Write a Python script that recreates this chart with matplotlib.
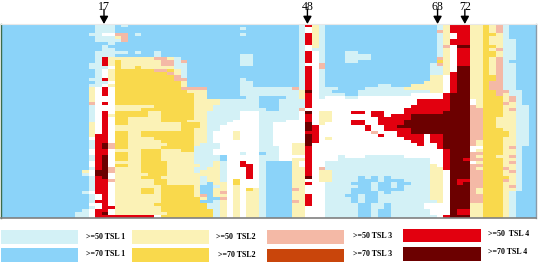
import numpy as np
import matplotlib
matplotlib.use('Agg')
import matplotlib.pyplot as plt
from matplotlib.colors import ListedColormap
from matplotlib.patches import Rectangle

# one string per row, one digit per position (groups of ten for counting)
# 0 none, 1/2 TSL1 >=50/>=70, 3/4 TSL2, 5/6 TSL3, 7/8 TSL4
rows = [
    "2222222222 2222211121 2222222222 2222222222 2222221731 2222222222 2222222137 7733435122 22",
    "2222222222 2222211122 2222222222 2222222122 2222221031 2222222222 2222222137 7733435122 22",
    "2222222222 2222211122 2222222222 2222222222 2222221031 2222222222 2222222537 7733435122 22",
    "2222222222 2222110055 2122222222 2222222122 2222221731 2222222222 2222222130 7733443122 22",
    "2222222222 2222211135 2222222222 2222222222 2222221731 2222222222 2222222130 7733433122 22",
    "2222222222 2222211115 2222222222 2222222222 2222221731 2222222222 2222222137 7733433112 22",
    "2222222222 2222222122 2222222222 2222222222 2222221731 2222222222 2222222137 7733433112 22",
    "2222222222 2222221222 2222222222 2222222222 2222221031 2222222222 2222222150 8833443112 22",
    "2222222222 2222221122 2222222222 2222222222 2222221011 2222222222 2222222130 7733435112 22",
    "2222222222 2222211111 2122122222 2222222222 2222221701 2221122222 2222222130 7733443112 22",
    "2222222222 2222211122 2222122222 2222222112 2222221701 2221111222 2222222130 7733443112 22",
    "2222222222 2222217333 3333553122 2222222112 2222221701 2221111222 2222222530 7733435112 22",
    "2222222222 2222217343 3333355152 2222222112 2222221701 2221122222 2222222430 7733435122 22",
    "2222222222 2222117343 3333355112 2222222112 2222221005 2222222222 2222221530 7733435112 22",
    "2222222222 2222111043 3433333112 2222222222 2222221705 2222222222 2222221130 8833435112 22",
    "2222222222 2222210344 4444554312 2222222222 2222221701 2222222222 2222221130 8833435112 22",
    "2222222222 2222210344 4444445312 2222222222 2222221701 2222222222 2222221137 8833435112 22",
    "2222222222 2222210344 4444444512 2222222222 2222221701 2222222222 2222223307 8833445112 22",
    "2222222222 2222117344 4444444552 2222222122 2222221701 2222222222 2222223307 8833445112 22",
    "2222222222 2222211044 4444444432 2222222112 2222221701 2222222222 2222233307 8833455112 22",
    "2222222222 2222110344 4444444432 2222222112 2222221701 2222222211 2223333307 8833455112 22",
    "2222222222 2222307044 4444444455 5522222111 1111151701 1122221111 1133333307 8833455112 22",
    "2222222222 2222307044 4444444443 3322222111 1111113801 1222211111 1111113307 8833445511 22",
    "2222222222 2222307044 4444444444 3322222111 1111113701 1112211111 1110000078 8833445311 22",
    "2222222222 2222300044 4444444444 3322222211 2222113701 0001100000 0000000078 8833444351 22",
    "2222222222 2222300044 4444444444 3333111111 2221111700 0000000000 0000777778 8803444351 22",
    "2222222222 2222507044 4444444444 3333111111 2221111700 0000000000 0000777778 8803444531 22",
    "2222222222 2222100033 3333444444 3331111111 2221111700 0000000000 0007777778 8853444331 12",
    "2222222222 2222100033 3344444444 3331111111 1221115000 0000000000 0077777778 8855444351 12",
    "2222222222 2222107044 4443344444 3311111000 1111110803 3000770770 0077777788 8855444331 12",
    "2222222222 2222107344 4443344444 3311111000 1111110703 3000000770 7778888888 8855444331 12",
    "2222222222 2222107044 3333344444 3311111000 1111110703 3000000077 7778888888 8855443331 12",
    "2222222222 2222107044 3333344443 3311110000 1111000703 3000770077 7788888888 8855443331 12",
    "2222222222 2222307044 3333333344 4311100000 1100000803 0000770077 7788888888 8855443331 12",
    "2222222222 2222307033 3333333344 4311000000 1100000870 0000007007 7888888888 8855443331 12",
    "2222222222 2222307033 3333333344 3311000000 1100000870 0000007007 7778888888 8855444331 12",
    "2222222222 2222307044 3344444444 3310003000 1100000770 0000000500 0778888888 8855444431 12",
    "2222222222 2222377044 3344444444 3310003000 1100000870 0000000070 0777707788 8855444431 12",
    "2222222222 2222077044 3333444444 3310003000 1100000870 3000000000 0077707788 8855444331 12",
    "2222222222 2222177044 3333344444 3310000000 1100000870 0000000000 0007707788 8853444331 12",
    "2222222222 2222178544 3333334444 3111000000 1100033800 0000000000 0000700788 8853444331 12",
    "2222222222 2222178544 3333344444 1111000000 1110033700 0000000000 0000000788 8800444351 22",
    "2222222222 2222077033 3344433344 1110000000 1110033700 0000000000 0000000078 8803444331 22",
    "2222222222 2222077044 3344433333 1110000100 2110033700 0000000000 0000000078 8855444331 22",
    "2222222222 2222178044 3344433333 1111200000 1110000700 0010001111 1100000078 8853443351 22",
    "2222222222 2222178044 3344433333 1111200000 1110033700 0011111111 1111110078 8755444331 22",
    "2222222222 2222078033 3344443333 1113100700 1222230700 1111111111 1111110078 8803444351 22",
    "2222222222 2222078044 3344443333 3113100770 1222230700 1111111111 1111113078 8855444331 22",
    "2222222222 2222178533 3344443333 1133100070 1222233705 1111111111 1111113378 8853444531 22",
    "2222222222 2223088533 3344443333 1333100070 1222233703 3111111111 1111113308 8855444351 22",
    "2222222222 2221088033 3334443333 3333100070 1222233703 3111111111 1111113308 8855444331 22",
    "2222222222 2222178033 3344433333 3133100070 1222233803 3111121212 1111113308 8855444431 22",
    "2222222222 2222177533 3333443333 3133104000 1222233003 3111122212 2211113308 7755444531 22",
    "2222222222 2222177033 3333443333 3123304000 1222233700 1111222122 1221113308 7855444331 22",
    "2222222222 2222177033 3333344444 3221303000 1222233000 1111122122 1211113308 8855444351 22",
    "2222222222 2222177033 3344344444 3223303043 1222253000 1111222122 2211113308 8853444331 22",
    "2222222222 2221077033 3344344444 3223503033 1222233000 1111222212 1111113308 8853444312 22",
    "2222222222 2222107033 3333344444 3523303033 1222233700 1112212211 1111113308 8855444312 22",
    "2222222222 2222107033 3333344444 4322503033 1222233700 1111212211 1111113308 8855444312 22",
    "2222222222 2222177033 3333344444 4221303033 1222253700 1111212211 1111111308 8855444312 22",
    "2222222222 2222007033 3333444444 4411303033 1222233700 1111122112 1111100008 8833444312 22",
    "2222222222 2222107733 3333344444 4411303033 1222233000 1111122112 1111100008 8833444312 22",
    "2222222222 2221077033 3333344444 4441303033 1222233000 1111122122 1111110008 7733444312 22",
    "2222222222 2211078033 3333334444 4441303033 1222233000 1111122122 1111110008 7733444312 22",
    "2222222222 2211077777 7777044444 4441303033 1222233000 1111122122 1111111078 8833444312 22",
]

level_colors = ['#ffffff', '#d3f1f6', '#8bd3f9', '#fbf2b6', '#f9d94c',
                '#f4b9a6', '#c9450b', '#e2000f', '#6c0000']

marked = [17, 48, 68, 72]
marked_x = [16.85, 47.8, 67.6, 71.75]

legend_labels = ['>=50 TSL 1', '>=70 TSL 1', '>=50  TSL2', '>=70 TSL2',
                 '>=50 TSL 3', '>=70 TSL 3', '>=50  TSL 4', '>=70 TSL 4']
legend_levels = [1, 2, 3, 4, 5, 6, 7, 8]

grid = np.array([[int(c) for c in r.replace(' ', '')] for r in rows])

W, H = 538, 262
fig = plt.figure(figsize=(W / 100, H / 100), dpi=100)
plt.rcParams['font.family'] = ['Liberation Serif', 'DejaVu Serif']

# heatmap, pixel box 1..535.5 x 24..218
ax = fig.add_axes([1 / W, 1 - 218 / H, 534.5 / W, 194 / H])
cmap = ListedColormap(level_colors)
xe = np.arange(grid.shape[1] + 1) + 0.5
ye = np.arange(grid.shape[0] + 1)
ax.pcolormesh(xe, ye, grid, cmap=cmap, vmin=-0.5, vmax=8.5)
ax.set_xlim(1.18, 82.5)
ax.set_ylim(grid.shape[0], 0)
ax.set_xticks([])
ax.set_yticks([])
for side, col, lw in [('left', '#3d6b4a', 1.0), ('right', '#8a9aa8', 1.0),
                      ('bottom', '#808080', 1.2), ('top', '#e8e8e8', 0.8)]:
    ax.spines[side].set_color(col)
    ax.spines[side].set_linewidth(lw)

for m, mx in zip(marked, marked_x):
    ax.annotate('', xy=(mx, 1.0), xycoords=('data', 'axes fraction'),
                xytext=(mx, 1.075), textcoords=('data', 'axes fraction'),
                arrowprops=dict(arrowstyle='-|>,head_width=0.25,head_length=0.45',
                                color='black', lw=1.0, shrinkA=0, shrinkB=0))
    ax.annotate(str(m), xy=(mx, 1.0), xycoords=('data', 'axes fraction'),
                xytext=(0, 10.3), textcoords='offset points', ha='center', va='baseline',
                fontsize=8.6, annotation_clip=False)

# legend drawn in pixel coordinates
lg = fig.add_axes([0, 0, 1, 1])
lg.set_xlim(0, W)
lg.set_ylim(H, 0)
lg.axis('off')
lg.patch.set_alpha(0)

box_x = [1, 1, 132, 132, 267, 267, 403, 403]
box_y = [229.5, 248, 229.5, 248, 230, 248.5, 229, 247]
box_w = [77, 77, 77, 77, 77, 77, 78, 78]
box_h = [14, 14, 14, 14, 13.5, 13.5, 13, 14]
text_x = [86, 86, 216, 218, 353, 353, 488, 488]
text_y = [237, 254, 237, 255, 235.5, 254, 234.5, 252.5]
for i, lev in enumerate(legend_levels):
    lg.add_patch(Rectangle((box_x[i], box_y[i]), box_w[i], box_h[i],
                           facecolor=level_colors[lev], edgecolor='none'))
    lg.text(text_x[i], text_y[i], legend_labels[i], fontsize=5.7, fontweight='bold',
            ha='left', va='center')

fig.savefig('out.png', dpi=100)
